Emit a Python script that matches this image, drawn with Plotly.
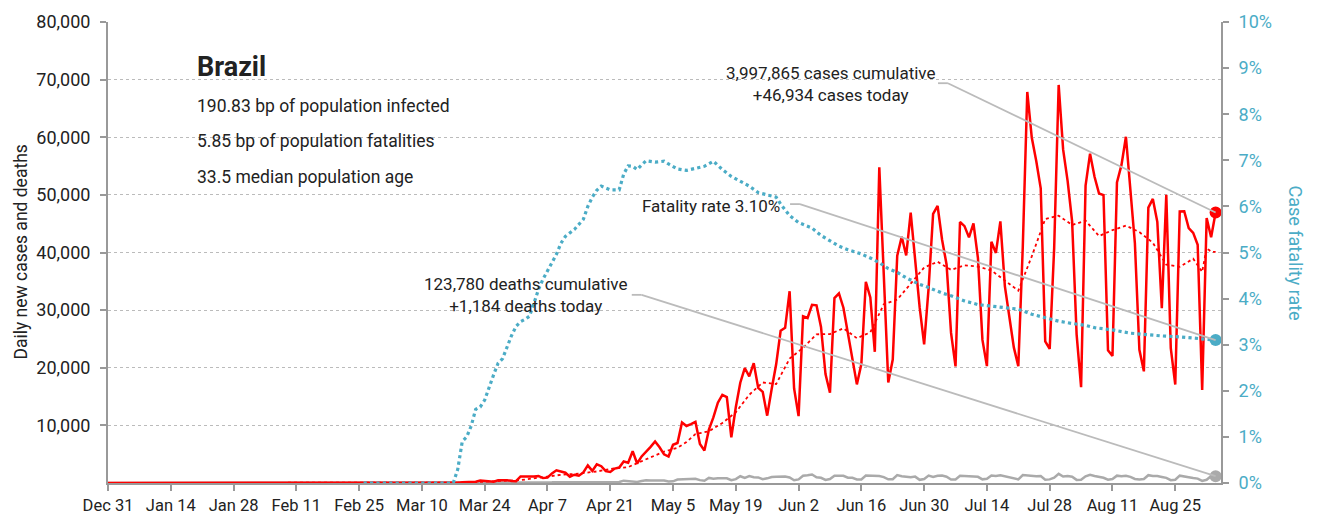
import pandas as pd
import plotly.graph_objects as go

START = "2019-12-31"
FONT = "Roboto, Liberation Sans, sans-serif"
RED = "#FF0000"
BLUE = "#4BACC6"
GREY = "#AAAAAA"
TEXT = "#222222"

# daily new cases, first entry is Feb 26 (day 57 after Dec 31)
CASES_FIRST_DAY = 57
cases = [
    1, 0, 0, 0, 1, 0, 0, 0, 1, 5, 6, 0, 6, 6, 0, 18, 25, 21, 23, 79, 34,
    57, 137, 193, 283, 224, 418, 345, 310, 232, 482, 502, 487, 352, 323,
    1138, 1119, 1074, 1146, 1222, 852, 926, 1661, 2210, 1930, 1781, 1089, 1442, 1261, 1832,
    3058, 2105, 3257, 2917, 2055, 1927, 2498, 2678, 3735, 3503, 5514, 3379, 4613, 5385, 6276,
    7218, 6209, 4970, 4588, 6633, 6935, 10503, 9888, 10222, 10611, 6760, 5632, 9258, 11385, 13944,
    15305, 14919, 7938, 13140, 17408, 19951, 18508, 20803, 16508, 15813, 11687, 16324, 20599,
    26417, 26928, 33274,
    16409, 11598, 28936, 28633, 30925, 30830, 27075, 18912, 15654, 32091, 32913, 30412, 25982,
    21704, 17110, 20647, 34918, 32188, 22765, 54771, 34666, 17459, 21432, 39436, 42725, 39483,
    46907, 38693, 30476, 24052,
    33846, 46712, 48105, 42223, 37923, 26051, 20229, 45305, 44571, 42619, 45048, 39023, 24831,
    20286, 41857, 39924, 45403, 34177, 28532, 23529, 20257, 41008, 67860, 59961, 55891, 51147,
    24578, 23284, 40816, 69074, 57837,
    52383, 45392, 25800, 16641, 51603, 57152, 53139, 50230, 49970, 23010, 22048, 52160, 55155,
    60091, 50644, 41576, 23101, 19373, 47784, 49298, 45323, 30355, 50032, 23421, 17078, 47134,
    47161, 44235, 43412, 41350, 16158,
    45961, 42659, 46934,
]

# daily new deaths, first entry is Mar 18 (day 78)
DEATHS_FIRST_DAY = 78
deaths = [
    1, 3, 2, 5, 7, 7, 9, 12, 11, 20, 15, 22, 22, 23, 42,
    40, 58, 60, 73, 54, 67, 114, 133, 141, 115, 68, 99, 105, 204, 204, 188, 217, 206, 115, 113,
    166, 165, 407, 357, 346, 189, 338, 474, 449, 435,
    428, 421, 275, 296, 600, 615, 610, 751, 730, 496, 396, 881, 749, 844, 824, 816, 485, 674,
    1179, 888, 1188, 1001, 965, 653, 807, 1039, 1086, 1156, 1124, 956, 480,
    623, 1262, 1349, 1473, 1005, 904, 525, 679, 1272, 1274, 1239, 909, 892, 612, 627, 1282,
    1269, 1238, 1206, 1022, 641, 654, 1374, 1185, 1141, 990, 1109, 552, 692, 1280,
    1038, 1252, 1290, 1091, 602, 620, 1254, 1223, 1220, 1214, 1071, 631, 733, 1300, 1233, 1322,
    1163, 921, 716, 632, 1367, 1284, 1311, 1156, 1211, 555, 627, 921, 1595, 1129, 1212,
    1088, 541, 561, 1154, 1437, 1226, 1079, 905, 572, 703, 1274, 1175, 1262, 1060, 709, 620,
    684, 1352, 1212, 1204, 1054, 892, 494, 565, 1271, 1085, 984, 855, 758, 366, 553,
    1215, 1184,
]

# 7-day average of cases, by day after Dec 31
avg_day = [0, 73, 77, 80, 85, 88, 91, 92, 94, 98, 101, 105, 109, 113, 116, 120, 124, 127, 129,
           131, 134, 137, 140, 143, 146, 149, 152, 155, 158, 161, 164, 167, 170, 173, 176, 179,
           182, 185, 188, 191, 194, 197, 200, 203, 206, 209, 212, 215, 218, 221, 224, 227, 230,
           233, 236, 239, 242, 244, 245, 246, 247]
avg_cases = [0, 9, 30, 78, 273, 359, 384, 502, 714, 1068, 1421, 1625, 2006, 2545, 2759, 4115,
             5436, 6118, 7104, 8483, 8982, 10414, 12270, 15310, 17447, 17177, 21577, 23452,
             25801, 25852, 26841, 25124, 26137, 31009, 31817, 34587, 37396, 38399, 36987,
             37772, 37549, 36891, 35072, 33383, 39332, 45815, 46393, 44766, 45533, 42851,
             43879, 44666, 43539, 41695, 37895, 37520, 38925, 36647, 40773, 40134, 40101]

# case fatality rate in percent, by day after Dec 31
cfr_day = [57, 77, 78, 79, 80, 81, 82, 83, 84, 85, 86, 87, 88, 89, 90, 91, 92, 93, 94, 95, 96,
           97, 98, 99, 100, 101, 102, 104, 106, 107, 108, 109, 110, 112, 114, 115, 116, 117,
           118, 119, 120, 122, 124, 125, 127, 129, 131, 133, 135, 137, 139, 141, 143, 145, 147,
           149, 150, 152, 154, 157, 159, 161, 163, 165, 168, 170, 172, 174, 176, 178, 181, 183,
           186, 188, 191, 194, 197, 200, 203, 206, 209, 212, 215, 218, 220, 224, 228, 231, 235,
           239, 243, 247]
cfr_pct = [0, 0, 0.3, 0.9, 1.0, 1.24, 1.6, 1.65, 1.8, 2.1, 2.35, 2.6, 2.7, 2.95, 3.2, 3.4, 3.5,
           3.55, 3.62, 3.9, 4.2, 4.42, 4.6, 4.75, 4.96, 5.2, 5.35, 5.5, 5.72, 6.0, 6.2, 6.35,
           6.44, 6.36, 6.36, 6.7, 6.88, 6.87, 6.8, 6.9, 6.99, 6.96, 6.98, 6.92, 6.81, 6.78,
           6.83, 6.87, 6.98, 6.8, 6.65, 6.55, 6.44, 6.3, 6.25, 6.2, 6.05, 5.8, 5.65, 5.53, 5.37,
           5.25, 5.14, 5.06, 4.97, 4.88, 4.78, 4.65, 4.57, 4.45, 4.31, 4.24, 4.12, 4.06, 3.95,
           3.87, 3.84, 3.80, 3.77, 3.66, 3.58, 3.51, 3.46, 3.42, 3.37, 3.32, 3.25, 3.22, 3.19,
           3.17, 3.14, 3.10]

start = pd.Timestamp(START)
cases_all = [0] * CASES_FIRST_DAY + cases
deaths_all = [0] * DEATHS_FIRST_DAY + deaths
dates = pd.date_range(start, periods=len(cases_all), freq="D")
death_dates = pd.date_range(start, periods=len(deaths_all), freq="D")
avg_dates = start + pd.to_timedelta(avg_day, unit="D")
cfr_dates = start + pd.to_timedelta(cfr_day, unit="D")
cfr = [v / 100 for v in cfr_pct]

fig = go.Figure()
fig.add_trace(go.Scatter(x=cfr_dates, y=cfr, yaxis="y2", mode="lines",
                         line=dict(color=BLUE, width=3.2, dash="dot")))
fig.add_trace(go.Scatter(x=death_dates, y=deaths_all, mode="lines",
                         line=dict(color=GREY, width=2.5)))
fig.add_trace(go.Scatter(x=avg_dates, y=avg_cases, mode="lines",
                         line=dict(color=RED, width=1.8, dash="dot")))
fig.add_trace(go.Scatter(x=dates, y=cases_all, mode="lines",
                         line=dict(color=RED, width=2.5)))

# end-point dots
fig.add_trace(go.Scatter(x=[dates[-1]], y=[cases_all[-1]], mode="markers",
                         marker=dict(color=RED, size=12)))
fig.add_trace(go.Scatter(x=[death_dates[-1]], y=[deaths_all[-1]], mode="markers",
                         marker=dict(color=GREY, size=12)))
fig.add_trace(go.Scatter(x=[cfr_dates[-1]], y=[cfr[-1]], yaxis="y2", mode="markers",
                         marker=dict(color=BLUE, size=12)))


def leader(d0, d1, yv, end_x, end_y, yref):
    line = dict(color="#BBBBBB", width=1.8)
    x0 = start + pd.Timedelta(days=d0)
    x1 = start + pd.Timedelta(days=d1)
    fig.add_shape(type="line", xref="x", yref=yref, x0=x0, x1=x1, y0=yv, y1=yv, line=line)
    fig.add_shape(type="line", xref="x", yref=yref, x0=x1, x1=end_x, y0=yv, y1=end_y, line=line)


leader(185.1, 187.3, 69380, dates[-1], cases_all[-1], "y")
leader(152.1, 154.3, 0.0605, cfr_dates[-1], cfr[-1], "y2")
leader(116.8, 119.0, 32650, death_dates[-1], deaths_all[-1], "y")


def note(text, x, y, size=17, xanchor="left", align="left", color=TEXT, **kw):
    fig.add_annotation(text=text, x=x, y=y, xref="paper", yref="paper", showarrow=False,
                       xanchor=xanchor, yanchor="middle", align=align,
                       font=dict(family=FONT, size=size, color=color), **kw)


note("<b>Brazil</b>", 0.078, 0.902, size=27)
note("190.83 bp of population infected", 0.078, 0.818, size=17.5)
note("5.85 bp of population fatalities", 0.078, 0.742, size=17.5)
note("33.5 median population age", 0.078, 0.664, size=17.5)
note("3,997,865 cases cumulative<br>+46,934 cases today", 0.649, 0.865, xanchor="center", align="center")
note("Fatality rate 3.10%", 0.6056, 0.601, xanchor="right")
note("123,780 deaths cumulative<br>+1,184 deaths today", 0.375, 0.407, xanchor="center", align="center")
note("Daily new cases and deaths", -0.079, 0.5, size=17.5, xanchor="center", textangle=-90)
note("Case fatality rate", 1.0665, 0.5, size=18, xanchor="center", color=BLUE, textangle=90)

fig.update_layout(
    width=1303, height=507,
    margin=dict(l=100, r=90, t=14, b=32),
    paper_bgcolor="white", plot_bgcolor="white",
    showlegend=False, hovermode=False,
    font=dict(family=FONT, size=17, color=TEXT),
    xaxis=dict(
        range=[start, start + pd.Timedelta(days=248.2)],
        tick0=START, dtick=14 * 86400000, tickformat="%b %-d",
        showgrid=False, showline=True, linecolor="#999999", linewidth=2,
        ticks="outside", ticklen=6, tickcolor="#999999", tickwidth=1.5,
        tickfont=dict(size=16.5, color=TEXT), zeroline=False, automargin=False,
    ),
    yaxis=dict(
        range=[0, 80000], tickvals=[10000 * i for i in range(1, 9)], tickformat=",",
        showgrid=True, gridcolor="#BBBBBB", griddash="dot", gridwidth=1,
        showline=True, linecolor="#999999", linewidth=2,
        ticks="outside", ticklen=6, tickcolor="#999999", tickwidth=1.5,
        ticklabelstandoff=6, tickfont=dict(size=18, color=TEXT), zeroline=False,
        automargin=False,
    ),
    yaxis2=dict(
        range=[0, 0.1], dtick=0.01, tickformat=".0%", overlaying="y", side="right",
        showgrid=False, showline=True, linecolor="#999999", linewidth=2,
        ticks="outside", ticklen=6, tickcolor="#999999", tickwidth=1.5,
        ticklabelstandoff=6, tickfont=dict(size=18, color=BLUE), zeroline=False,
        automargin=False,
    ),
)

fig.write_html("out.html")
